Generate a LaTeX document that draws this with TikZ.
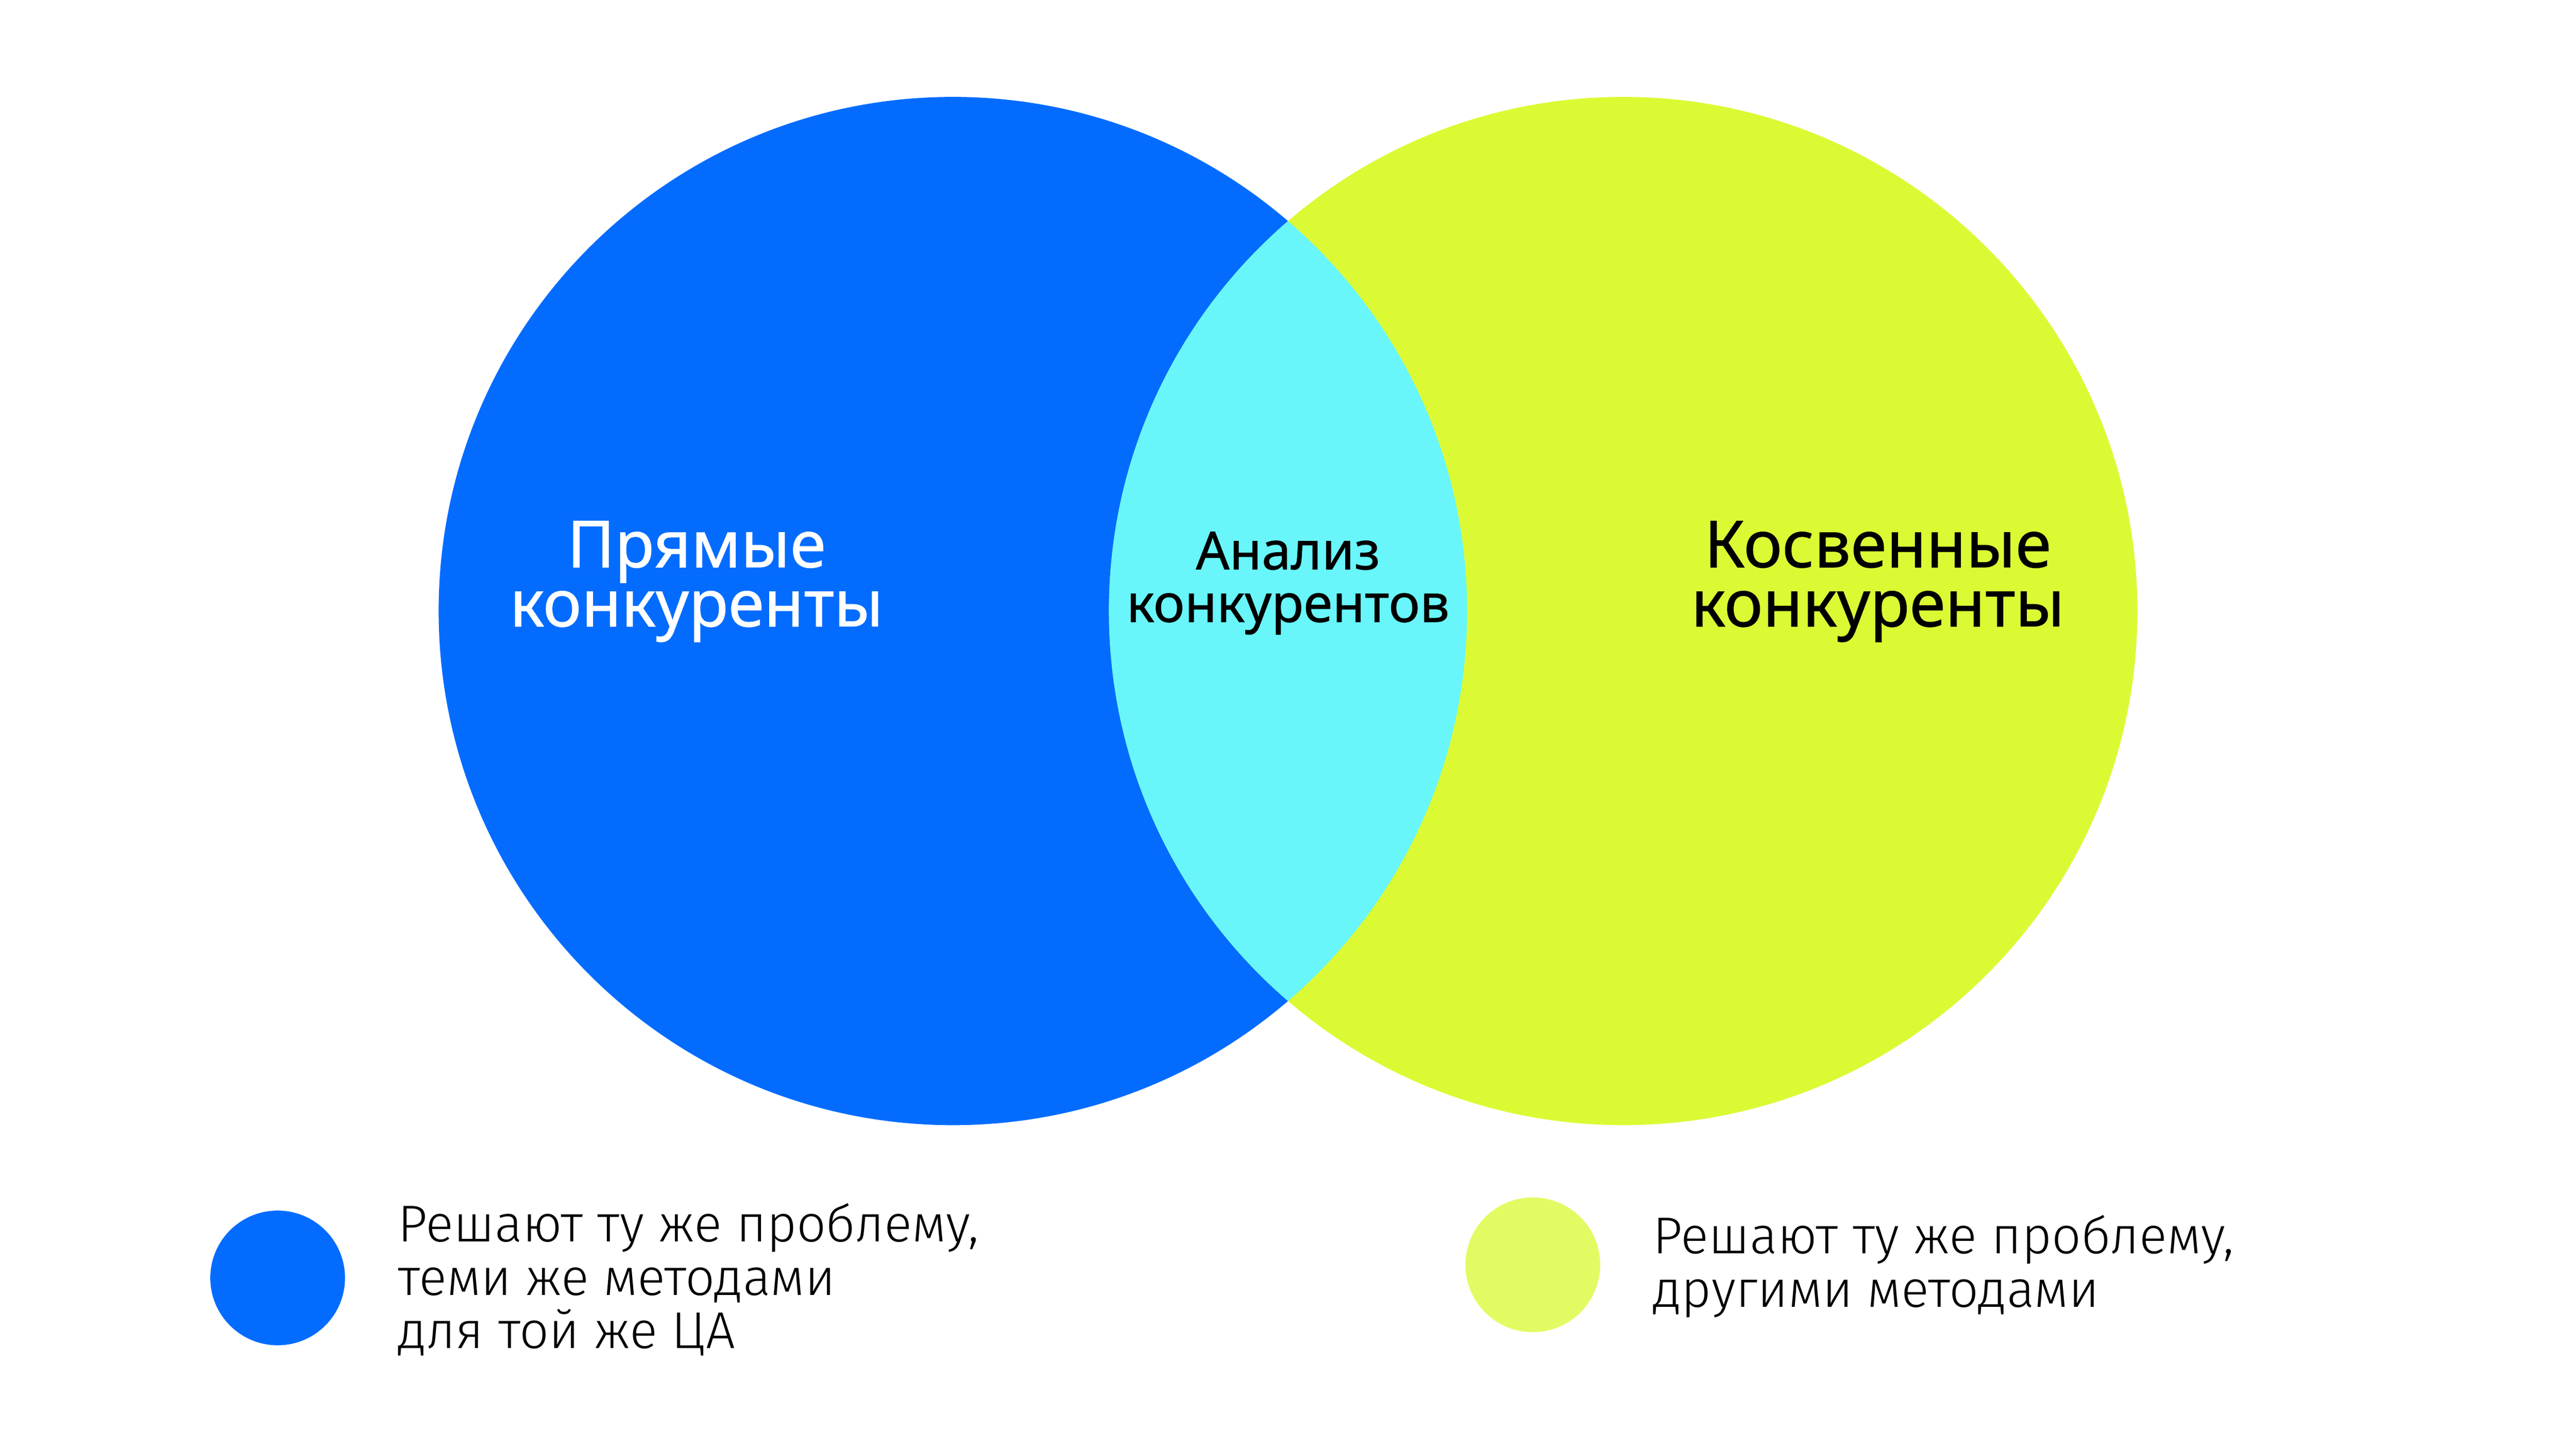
\documentclass[tikz,border=0pt]{standalone}
\usepackage{fontspec}
\setmainfont{Noto Sans}
\newfontfamily\medfont{Noto Sans}[FakeBold=0.8]
\newfontfamily\thinfont{Fira Sans Light}
\usetikzlibrary{positioning}
\definecolor{pryblue}{HTML}{036CFF}
\definecolor{kosgreen}{HTML}{DCFA34}
\definecolor{anacyan}{HTML}{68F6FA}
\definecolor{leggreen}{HTML}{E3FB62}
\begin{document}
\begin{tikzpicture}[x=1pt,y=-1pt]
      \tikzstyle{big}=[circle,minimum size=626pt,inner sep=0pt]
      \tikzstyle{dot}=[circle,minimum size=82pt,inner sep=0pt]
      \tikzstyle{head}=[align=center,inner sep=0pt,font=\medfont\fontsize{39.5}{36}\selectfont]
      \tikzstyle{legend}=[align=left,anchor=west,inner sep=0pt,font=\thinfont\fontsize{31.5}{32.5}\selectfont]
      \useasboundingbox[fill=white] (0,0) rectangle (1568,882);
      \node[big,fill=pryblue] (pr) at (580,372) {};
      \node[big,fill=kosgreen] (ko) at (988,372) {};
      % overlap of the two circles
      \begin{scope}
        \clip (580,372) circle (313);
        \fill[anacyan] (988,372) circle (313);
      \end{scope}
      \node[head,text=white] (prt) at (424,354) {Прямые\\конкуренты};
      \node[head,font=\medfont\fontsize{32}{32}\selectfont] (ant) at (784,355) {Анализ\\конкурентов};
      \node[head] (kot) at (1143,354) {Косвенные\\конкуренты};
      \node[dot,fill=pryblue] (prd) at (169,778) {};
      \node[legend] (prl) at (242,779) {Решают ту же проблему,\\теми же методами\\для той же ЦА};
      \node[dot,fill=leggreen] (kod) at (933,770) {};
      \node[legend] (kol) at (1006,771) {Решают ту же проблему,\\другими методами};
\end{tikzpicture}
\end{document}
